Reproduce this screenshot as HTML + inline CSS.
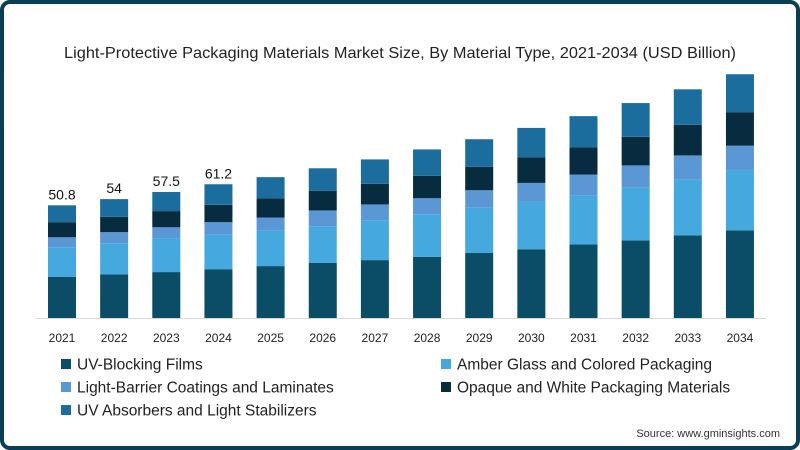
<!DOCTYPE html>
<html><head><meta charset="utf-8"><style>
html,body{margin:0;padding:0;background:#fff;}
svg{display:block;font-family:"Liberation Sans",sans-serif;}
</style></head><body>
<svg id="chart" width="800" height="450" viewBox="0 0 800 450">
<rect x="2" y="2" width="796" height="446" rx="8" fill="#fff" stroke="#0b3d55" stroke-width="4"/>
<text x="400" y="58" text-anchor="middle" font-size="16" fill="#222" textLength="672" lengthAdjust="spacingAndGlyphs">Light-Protective Packaging Materials Market Size, By Material Type, 2021-2034 (USD Billion)</text>
<line x1="36" y1="318.5" x2="766" y2="318.5" stroke="#d8d8d8" stroke-width="1"/>
<g id="bars"></g>
<g id="xlabels"></g>
<g id="totals"></g>
<g id="legend"></g>
<text x="780" y="437" text-anchor="end" font-size="11" fill="#333">Source: www.gminsights.com</text>
</svg>
<script>
const years = ["2021","2022","2023","2024","2025","2026","2027","2028","2029","2030","2031","2032","2033","2034"];
const uvBlocking = [18.6,19.7,20.7,22.0,23.4,24.9,26.1,27.6,29.3,31.0,33.2,35.0,37.3,39.5];
const amberGlass = [13.3,14.0,15.2,15.5,16.2,16.5,18.0,19.2,20.6,21.5,22.2,23.7,25.2,27.2];
const lightBarrier = [4.5,5.0,5.0,5.7,5.7,7.1,7.1,7.2,7.7,8.4,9.3,10.1,10.8,11.0];
const opaqueWhite = [6.8,6.9,7.3,7.8,8.7,8.8,9.3,10.1,10.6,11.6,12.2,12.9,13.8,15.1];
const uvAbsorbers = [7.6,8.0,8.6,9.3,9.5,10.2,11.0,11.9,12.4,13.2,14.1,15.2,16.0,17.1];
const totalLabels = ["50.8","54","57.5","61.2","","","","","","","","","",""];
const seriesNames = ["UV-Blocking Films","Amber Glass and Colored Packaging","Light-Barrier Coatings and Laminates","Opaque and White Packaging Materials","UV Absorbers and Light Stabilizers"];

const NS="http://www.w3.org/2000/svg";
const colors=["#0b4d66","#45a8de","#5b97d4","#072b3f","#1a6d9c"];
const series=[uvBlocking,amberGlass,lightBarrier,opaqueWhite,uvAbsorbers];
const baseY=318, pxPerUnit=2.218, x0=62, step=52.15, bw=28;
const yScale=v=>baseY-v*pxPerUnit;
const xCenter=i=>x0+i*step;
function mk(tag,attrs){const e=document.createElementNS(NS,tag);for(const k in attrs)e.setAttribute(k,attrs[k]);return e;}
const gb=document.getElementById('bars'),gx=document.getElementById('xlabels'),gt=document.getElementById('totals'),gl=document.getElementById('legend');
years.forEach((yr,i)=>{
  let cum=0;
  series.forEach((s,k)=>{
    const y1=yScale(cum), y2=yScale(cum+s[i]);
    const r=mk('rect',{x:xCenter(i)-bw/2,y:y2,width:bw,height:y1-y2,fill:colors[k]});
    
    
    gb.appendChild(r);
    cum+=s[i];
  });
  const t=mk('text',{x:xCenter(i),y:342,'text-anchor':'middle','font-size':'12',fill:'#222'});
  t.textContent=yr;
  
  
  gx.appendChild(t);
  if(totalLabels[i]){
    const tl=mk('text',{x:xCenter(i),y:yScale(cum)-6,'text-anchor':'middle','font-size':'14',fill:'#111'});
    tl.textContent=totalLabels[i];
    
    
    gt.appendChild(tl);
  }
});
const legPos=[[61,364],[441,364],[61,387],[441,387],[61,410]];
seriesNames.forEach((n,k)=>{
  const g=mk('g',{});
  
  
  const [lx,ly]=legPos[k];
  g.appendChild(mk('rect',{x:lx,y:ly-5,width:10,height:10,fill:colors[k]}));
  const t=mk('text',{x:lx+16,y:ly+5.5,'font-size':'15.5',fill:'#222'});
  t.textContent=n;
  g.appendChild(t);
  gl.appendChild(g);
});
</script>
</body></html>
